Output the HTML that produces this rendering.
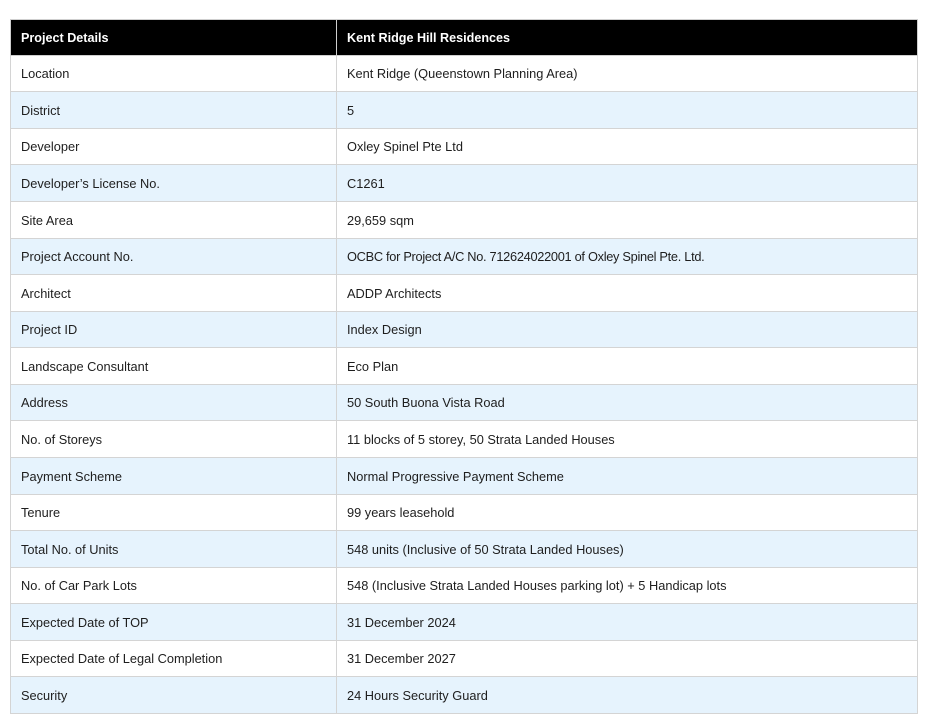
<!DOCTYPE html>
<html>
<head>
<meta charset="utf-8">
<style>
  html,body{margin:0;padding:0;background:#fff;}
  body{width:943px;height:717px;position:relative;overflow:hidden;font-family:"Liberation Sans",Arial,sans-serif;font-size:12.8px;color:#1e1e1e;}
  .row{position:absolute;left:10px;width:908px;border-left:1px solid #d4d4d4;border-right:1px solid #d4d4d4;border-bottom:1px solid #d4d4d4;box-sizing:border-box;}
  .row.alt{background:#e6f3fd;}
  .row.hdr{background:#000;color:#fff;font-weight:bold;font-size:12.6px;border-color:#cfcfcf;border-top:1px solid #cfcfcf;}
  .c1,.c2{position:absolute;top:0;bottom:0;display:flex;align-items:center;white-space:nowrap;}
  .c1{left:0;width:326px;padding-left:10px;box-sizing:border-box;border-right:1px solid #d4d4d4;}
  .c2{left:326px;right:0;padding-left:10px;box-sizing:border-box;}
  .hdr .c1{border-right:1px solid #cfcfcf;}
  .n{letter-spacing:-0.3px;}
</style>
</head>
<body>
<div class="row hdr" style="top:19px;height:37px;"><div class="c1">Project Details</div><div class="c2">Kent Ridge Hill Residences</div></div>
<div class="row" style="top:56px;height:36px;"><div class="c1">Location</div><div class="c2">Kent Ridge (Queenstown Planning Area)</div></div>
<div class="row alt" style="top:92px;height:37px;"><div class="c1">District</div><div class="c2">5</div></div>
<div class="row" style="top:129px;height:36px;"><div class="c1">Developer</div><div class="c2">Oxley Spinel Pte Ltd</div></div>
<div class="row alt" style="top:165px;height:37px;"><div class="c1">Developer’s License No.</div><div class="c2">C1261</div></div>
<div class="row" style="top:202px;height:37px;"><div class="c1">Site Area</div><div class="c2">29,659 sqm</div></div>
<div class="row alt" style="top:239px;height:36px;"><div class="c1">Project Account No.</div><div class="c2 n">OCBC for Project A/C No. 712624022001 of Oxley Spinel Pte. Ltd.</div></div>
<div class="row" style="top:275px;height:37px;"><div class="c1">Architect</div><div class="c2">ADDP Architects</div></div>
<div class="row alt" style="top:312px;height:36px;"><div class="c1">Project ID</div><div class="c2">Index Design</div></div>
<div class="row" style="top:348px;height:37px;"><div class="c1">Landscape Consultant</div><div class="c2">Eco Plan</div></div>
<div class="row alt" style="top:385px;height:36px;"><div class="c1">Address</div><div class="c2">50 South Buona Vista Road</div></div>
<div class="row" style="top:421px;height:37px;"><div class="c1">No. of Storeys</div><div class="c2">11 blocks of 5 storey, 50 Strata Landed Houses</div></div>
<div class="row alt" style="top:458px;height:37px;"><div class="c1">Payment Scheme</div><div class="c2">Normal Progressive Payment Scheme</div></div>
<div class="row" style="top:495px;height:36px;"><div class="c1">Tenure</div><div class="c2">99 years leasehold</div></div>
<div class="row alt" style="top:531px;height:37px;"><div class="c1">Total No. of Units</div><div class="c2">548 units (Inclusive of 50 Strata Landed Houses)</div></div>
<div class="row" style="top:568px;height:36px;"><div class="c1">No. of Car Park Lots</div><div class="c2">548 (Inclusive Strata Landed Houses parking lot) + 5 Handicap lots</div></div>
<div class="row alt" style="top:604px;height:37px;"><div class="c1">Expected Date of TOP</div><div class="c2">31 December 2024</div></div>
<div class="row" style="top:641px;height:36px;"><div class="c1">Expected Date of Legal Completion</div><div class="c2">31 December 2027</div></div>
<div class="row alt" style="top:677px;height:37px;"><div class="c1">Security</div><div class="c2">24 Hours Security Guard</div></div>
</body>
</html>
